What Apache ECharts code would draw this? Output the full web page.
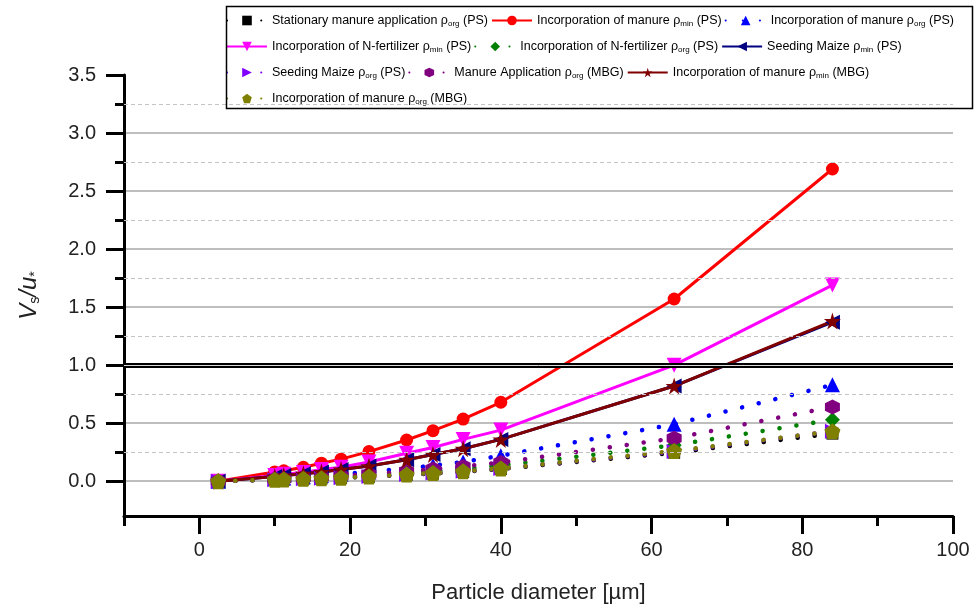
<!DOCTYPE html>
<html>
<head>
<meta charset="utf-8">
<script src="https://cdn.jsdelivr.net/npm/echarts@6/dist/echarts.min.js"></script>
<style>html,body{margin:0;padding:0;background:#fff}#c{width:974px;height:610px}</style>
</head>
<body>
<div id="c"></div>
<script>
// ---- data ----
const diameters = [2.5, 10, 11.2, 13.8, 16.2, 18.8, 22.5, 27.5, 31, 35, 40, 63, 84];
const stationaryManureOrgPS = [0, 0.012, 0.014, 0.018, 0.023, 0.028, 0.038, 0.054, 0.066, 0.08, 0.105, 0.245, 0.41];
const incManureMinPS = [0, 0.08, 0.09, 0.12, 0.155, 0.19, 0.255, 0.355, 0.435, 0.535, 0.68, 1.57, 2.69];
const incManureOrgPS = [0, 0.025, 0.028, 0.038, 0.048, 0.06, 0.08, 0.11, 0.135, 0.165, 0.22, 0.49, 0.83];
const incNFertMinPS = [0, 0.05, 0.06, 0.075, 0.1, 0.12, 0.165, 0.24, 0.29, 0.36, 0.44, 1.0, 1.69];
const incNFertOrgPS = [0, 0.016, 0.018, 0.024, 0.031, 0.037, 0.05, 0.07, 0.086, 0.105, 0.135, 0.31, 0.53];
const seedMaizeMinPS = [0, 0.04, 0.05, 0.064, 0.08, 0.1, 0.13, 0.185, 0.23, 0.28, 0.36, 0.82, 1.37];
const seedMaizeOrgPS = [0, 0.013, 0.015, 0.02, 0.025, 0.03, 0.04, 0.057, 0.07, 0.085, 0.11, 0.255, 0.43];
const manureAppOrgMBG = [0, 0.019, 0.022, 0.029, 0.037, 0.045, 0.06, 0.085, 0.104, 0.127, 0.16, 0.37, 0.64];
const incManureMinMBG = [0, 0.04, 0.05, 0.065, 0.08, 0.1, 0.13, 0.185, 0.23, 0.28, 0.36, 0.82, 1.38];
const incManureOrgMBG = [0, 0.013, 0.015, 0.02, 0.025, 0.03, 0.04, 0.057, 0.07, 0.085, 0.11, 0.26, 0.43];
const thresholdValue = [1.0];
const xMajorTicks = [0, 20, 40, 60, 80, 100];
const xMinorTicks = [-10, 10, 30, 50, 70, 90];
const yMajorTicks = [0, 0.5, 1.0, 1.5, 2.0, 2.5, 3.0, 3.5];
const yMinorTicks = [0.25, 0.75, 1.25, 1.75, 2.25, 2.75, 3.25];

const names = [
  'Stationary manure application ρ_org (PS)',
  'Incorporation of manure ρ_min (PS)',
  'Incorporation of manure ρ_org (PS)',
  'Incorporation of N-fertilizer ρ_min (PS)',
  'Incorporation of N-fertilizer ρ_org (PS)',
  'Seeding Maize ρ_min (PS)',
  'Seeding Maize ρ_org (PS)',
  'Manure Application ρ_org (MBG)',
  'Incorporation of manure ρ_min (MBG)',
  'Incorporation of manure ρ_org (MBG)'
];
const legendRows = [[0,1,2],[3,4,5],[6,7,8],[9]];

const STAR = 'path://M50,0 L61,35 L98,35 L68,57 L79,91 L50,70 L21,91 L32,57 L2,35 L39,35 Z';
const PENT = 'path://M50,0 L97.6,34.5 L79.4,90.5 L20.6,90.5 L2.4,34.5 Z';
const HEX = 'path://M50,0 L93.3,25 L93.3,75 L50,100 L6.7,75 L6.7,25 Z';

const FONT = '"Liberation Sans", Arial, sans-serif';
const dotted = {type: [0.1, 17], cap: 'round', width: 4.5};

function pairs(ys) { return diameters.map((x, i) => [x, ys[i]]); }

const specs = [
  {d: stationaryManureOrgPS, c: '#000000', sym: 'rect', size: 12, dot: true},
  {d: incManureMinPS, c: '#ff0000', sym: 'circle', size: 13, dot: false},
  {d: incManureOrgPS, c: '#0000ff', sym: 'triangle', size: 15, dot: true},
  {d: incNFertMinPS, c: '#ff00ff', sym: 'triangle', rot: 180, size: 15, dot: false},
  {d: incNFertOrgPS, c: '#008000', sym: 'diamond', size: 15, dot: true},
  {d: seedMaizeMinPS, c: '#000080', sym: 'triangle', rot: 90, size: 15, dot: false},
  {d: seedMaizeOrgPS, c: '#8000ff', sym: 'triangle', rot: -90, size: 15, dot: true},
  {d: manureAppOrgMBG, c: '#800080', sym: HEX, size: 15, dot: true},
  {d: incManureMinMBG, c: '#800000', sym: STAR, size: 17, dot: false},
  {d: incManureOrgMBG, c: '#808000', sym: PENT, size: 16, dot: true}
];

const series = specs.map((s, i) => ({
  name: names[i],
  type: 'line',
  data: pairs(s.d),
  symbol: s.sym,
  symbolSize: s.size,
  symbolRotate: s.rot || 0,
  showAllSymbol: true,
  color: s.c,
  itemStyle: {color: s.c},
  lineStyle: s.dot ? Object.assign({color: s.c}, dotted) : {color: s.c, width: 3},
  animation: false
}));

// grid decorations: threshold line + dashed minor grid
series.unshift({
  type: 'line', data: [], silent: true, animation: false,
  markLine: {
    silent: true, symbol: 'none', label: {show: false}, animation: false,
    data: yMinorTicks.map(v => ({yAxis: v, lineStyle: {color: '#c4c4c4', width: 1, type: [4, 3]}}))
      .concat(thresholdValue.map(v => ({yAxis: v, lineStyle: {color: '#000', width: 5, type: 'solid'}})))
      .concat(thresholdValue.map(v => ({yAxis: v, lineStyle: {color: '#d8d8d8', width: 1, type: 'solid'}})))
  }
});

const legends = legendRows.map((row, r) => ({
  data: row.map(i => names[i]),
  left: 226, top: 14 + r * 26, width: 780,
  orient: 'horizontal',
  itemGap: 3, itemWidth: 40, itemHeight: 12, padding: 0,
  formatter: n => n.replace(/_(\w+)/, '{sub|$1}'),
  textStyle: {
    fontFamily: FONT, fontSize: 12.5, color: '#000',
    rich: {sub: {fontFamily: FONT, fontSize: 8, color: '#000', verticalAlign: 'bottom', padding: [7, 0, 0, 0]}}
  }
}));

const axisText = {fontFamily: FONT, fontSize: 20, color: '#222'};

const option = {
  backgroundColor: '#fff',
  animation: false,
  graphic: [{type: 'rect', left: 224, top: 4, shape: {width: 746, height: 102},
    style: {fill: 'none', stroke: '#000', lineWidth: 1.5}, z: 100}],
  legend: legends,
  grid: {left: 124, right: 21, top: 75, bottom: 94, containLabel: false},
  xAxis: [{
    type: 'value', min: -10, max: 100,
    axisLine: {show: true, onZero: false, lineStyle: {color: '#000', width: 3}},
    axisTick: {show: true, length: 18, lineStyle: {color: '#000', width: 3}, customValues: xMajorTicks},
    axisLabel: {show: true, margin: 24, customValues: xMajorTicks, ...axisText},
    splitLine: {show: false},
    name: 'Particle diameter [µm]', nameLocation: 'middle', nameGap: 66,
    nameTextStyle: {fontFamily: FONT, fontSize: 22, color: '#222'}
  }, {
    type: 'value', min: -10, max: 100, position: 'bottom',
    axisLine: {show: false, onZero: false},
    axisTick: {show: true, length: 10, lineStyle: {color: '#000', width: 3}, customValues: xMinorTicks},
    axisLabel: {show: false}, splitLine: {show: false}
  }],
  yAxis: [{
    type: 'value', min: -0.3, max: 3.5,
    axisLine: {show: true, onZero: false, lineStyle: {color: '#000', width: 3}},
    axisTick: {show: true, length: 18, lineStyle: {color: '#000', width: 3}, customValues: yMajorTicks},
    axisLabel: {show: true, margin: 28, customValues: yMajorTicks, formatter: v => v.toFixed(1), ...axisText},
    splitLine: {show: true, showMaxLine: false, lineStyle: {color: '#a8a8a8', width: 1.5}},
    name: '{it|V}{sub|s}{it|/u}{sub|*}', nameLocation: 'middle', nameGap: 82, nameRotate: 90,
    nameTextStyle: {fontFamily: FONT, fontSize: 24, color: '#222',
      rich: {it: {fontFamily: FONT, fontSize: 24, fontStyle: 'italic', color: '#222'},
             sub: {fontFamily: FONT, fontSize: 14, color: '#222', verticalAlign: 'bottom', padding: [12, 0, 0, 0]}}}
  }, {
    type: 'value', min: -0.3, max: 3.5, position: 'left',
    axisLine: {show: false, onZero: false},
    axisTick: {show: true, length: 9, lineStyle: {color: '#000', width: 3}, customValues: yMinorTicks},
    axisLabel: {show: false}, splitLine: {show: false}
  }],
  series: series
};

const chart = echarts.init(document.getElementById('c'), null, {renderer: 'canvas'});
chart.setOption(option);
</script>
</body>
</html>
